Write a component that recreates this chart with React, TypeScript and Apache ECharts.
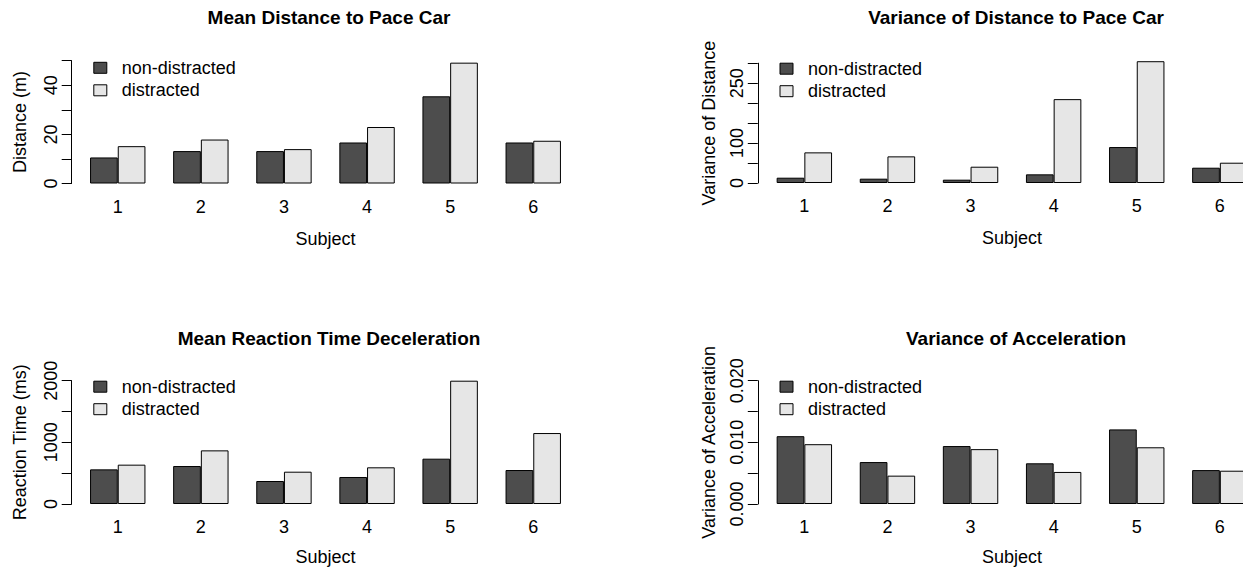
import React, { useEffect, useRef } from "react";
import * as echarts from "echarts";

const subjects = ["1", "2", "3", "4", "5", "6"];
const seriesNames = ["non-distracted", "distracted"];

const meanDistNon = [10.6, 13.2, 13.2, 16.7, 35.5, 16.7];
const meanDistDis = [15.2, 17.9, 14.0, 23.0, 49.2, 17.4];
const varDistNon = [13.3, 10.8, 8.3, 21.7, 90, 38.3];
const varDistDis = [76.7, 66.7, 40.8, 210, 305, 50.8];
const rtNon = [562, 616, 373, 438, 735, 551];
const rtDis = [638, 870, 524, 595, 2000, 1151];
const accNon = [0.011, 0.0068, 0.0094, 0.0066, 0.0121, 0.0055];
const accDis = [0.0097, 0.0046, 0.0089, 0.0052, 0.0092, 0.0054];

const titles = [
  "Mean Distance to Pace Car",
  "Variance of Distance to Pace Car",
  "Mean Reaction Time Deceleration",
  "Variance of Acceleration",
];
const yNames = ["Distance (m)", "Variance of Distance", "Reaction Time (ms)", "Variance of Acceleration"];
const yMax = [50, 300, 2000, 0.02];
const yStep = [10, 50, 500, 0.005];
const yLabeled = [
  [0, 20, 40],
  [0, 100, 250],
  [0, 1000, 2000],
  [0, 0.01, 0.02],
];
const yDecimals = [0, 0, 0, 3];

const FONT = "'Liberation Sans', Arial, Helvetica, sans-serif";
const DARK = "#4D4D4D";
const LIGHT = "#E6E6E6";

export default function App() {
  const ref = useRef<HTMLDivElement>(null);
  useEffect(() => {
    if (!ref.current) return;
    const chart = echarts.init(ref.current, null, { renderer: "svg" });
    const data = [
      [meanDistNon, meanDistDis],
      [varDistNon, varDistDis],
      [rtNon, rtDis],
      [accNon, accDis],
    ];
    // panel layout (pixels)
    const gridLeft = [76.2, 762.8, 76.2, 762.8];
    const gridTop = [60.7, 63.2, 380.7, 380.7];
    const gridBottomY = [183.5, 183, 504, 504];
    const axisOffset = [4.5, 5, 4.5, 5];
    const centerX = [329, 1016, 329, 1016];
    const titleY = [17, 17, 338, 338];
    const legendLeft = [93.3, 779.5, 93.3, 779.5];
    const legendTop = [58.8, 59.7, 377.7, 377.7];
    const yNameGap = [43, 40, 43, 40];
    const xNameGap = [46, 46, 44, 44];

    const grid = data.map((_, i) => ({
      left: gridLeft[i],
      top: gridTop[i],
      width: 498.6,
      height: gridBottomY[i] - gridTop[i],
      outerBoundsMode: "none",
    }));
    const xAxis = data.map((_, i) => ({
      type: "category",
      gridIndex: i,
      data: subjects,
      axisLine: { show: false },
      axisTick: { show: false },
      axisLabel: { color: "#000", fontSize: 18, fontFamily: FONT, margin: 14 },
      name: "Subject",
      nameLocation: "middle",
      nameGap: xNameGap[i],
      nameTextStyle: { color: "#000", fontSize: 18, fontFamily: FONT },
    }));
    const yAxis = data.map((_, i) => ({
      type: "value",
      gridIndex: i,
      min: 0,
      max: yMax[i],
      interval: yStep[i],
      offset: axisOffset[i],
      splitLine: { show: false },
      axisLine: { show: true, lineStyle: { color: "#000", width: 1 } },
      axisTick: { show: true, length: 10, lineStyle: { color: "#000", width: 1 } },
      axisLabel: {
        rotate: 90,
        margin: 12,
        color: "#000",
        fontSize: 18,
        fontFamily: FONT,
        showMinLabel: true,
        showMaxLabel: true,
        hideOverlap: false,
        formatter: (v: number) =>
          yLabeled[i].some((l) => Math.abs(l - v) < yStep[i] * 1e-6) ? v.toFixed(yDecimals[i]) : "",
      },
      name: yNames[i],
      nameLocation: "middle",
      nameRotate: 90,
      nameGap: yNameGap[i],
      nameTextStyle: { color: "#000", fontSize: 18, fontFamily: FONT },
    }));
    const series: any[] = [];
    data.forEach((pair, i) => {
      pair.forEach((vals, k) => {
        series.push({
          type: "bar",
          name: seriesNames[k],
          xAxisIndex: i,
          yAxisIndex: i,
          data: vals,
          barWidth: 27.7,
          barGap: "0%",
          clip: false,
          itemStyle: { color: k === 0 ? DARK : LIGHT, borderColor: "#000", borderWidth: 1 },
          emphasis: { disabled: true },
        });
      });
    });
    const legend = data.map((_, i) => ({
      data: seriesNames,
      orient: "vertical",
      left: legendLeft[i],
      top: legendTop[i],
      padding: 0,
      icon: "rect",
      itemWidth: 13,
      itemHeight: 11,
      itemGap: 4.5,
      selectedMode: false,
      itemStyle: { borderColor: "#000", borderWidth: 1 },
      textStyle: { color: "#000", fontSize: 18, fontFamily: FONT, lineHeight: 18, padding: [0, 0, 0, 10] },
    }));
    const graphic = titles.map((t, i) => ({
      type: "text",
      x: centerX[i],
      y: titleY[i],
      style: {
        text: t,
        fill: "#000",
        font: `bold 19px ${FONT}`,
        textAlign: "center",
        textVerticalAlign: "middle",
      },
    }));
    chart.setOption({
      animation: false,
      backgroundColor: "#fff",
      grid,
      xAxis,
      yAxis,
      series,
      legend,
      graphic,
      tooltip: { show: false },
    } as any);
    return () => chart.dispose();
  }, []);
  return (
    <div
      ref={ref}
      style={{ position: "absolute", left: 0, top: 0, width: 1243, height: 567, overflow: "hidden" }}
    />
  );
}
